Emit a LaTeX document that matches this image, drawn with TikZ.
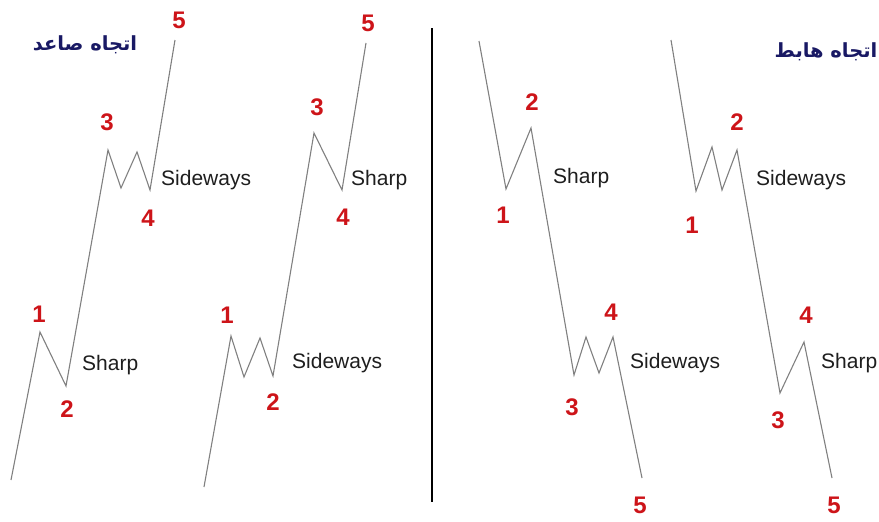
\documentclass[tikz,border=0pt]{standalone}
\usepackage{fontspec}
\setmainfont{Liberation Sans}
\newfontfamily\arabicfont[Script=Arabic]{DejaVu Sans Bold}
\TeXXeTstate=1
\definecolor{wavegray}{RGB}{128,128,128}
\definecolor{numred}{RGB}{205,20,25}
\definecolor{titleblue}{RGB}{25,25,100}
\definecolor{txtgray}{RGB}{30,30,30}
\tikzset{
  wave/.style={draw=wavegray, line width=1.1pt, line join=miter},
  num/.style={text=numred, font=\fontsize{24}{26}\selectfont\bfseries, inner sep=0pt, anchor=center},
  lbl/.style={text=txtgray, font=\fontsize{21}{23}\selectfont, inner sep=0pt, anchor=west},
  ttl/.style={text=titleblue, font=\arabicfont\fontsize{19.5}{22}\selectfont, inner sep=0pt, anchor=center},
  divider/.style={draw=black, line width=2pt}
}
\begin{document}
\begin{tikzpicture}[x=1pt,y=-1pt]
\useasboundingbox (0,0) rectangle (879,522);
% panel 1
\coordinate (a0) at (11,480);
\coordinate (a1) at (40,332);
\coordinate (a2) at (66,386);
\coordinate (a3) at (108,150);
\coordinate (a3b) at (121,188);
\coordinate (a3c) at (137,152);
\coordinate (a4) at (150,190);
\coordinate (a5) at (175,40);
\draw[wave] (a0) -- (a1) -- (a2) -- (a3) -- (a3b) -- (a3c) -- (a4) -- (a5);
\node[num] (na1) at (39,314) {1};
\node[num] (na2) at (67,409) {2};
\node[num] (na3) at (107,122) {3};
\node[num] (na4) at (148,218) {4};
\node[num] (na5) at (179,20) {5};
\node[lbl] (la1) at (82,365) {Sharp};
\node[lbl] (la2) at (161,180) {Sideways};
\node[ttl] (ta) at (85,45) {\beginR اتجاه صاعد\endR};
% panel 2
\coordinate (b0) at (204,487);
\coordinate (b1) at (231,336);
\coordinate (b1b) at (244,377);
\coordinate (b1c) at (260,338);
\coordinate (b2) at (273,376);
\coordinate (b3) at (314,133);
\coordinate (b4) at (342,190);
\coordinate (b5) at (366,43);
\draw[wave] (b0) -- (b1) -- (b1b) -- (b1c) -- (b2) -- (b3) -- (b4) -- (b5);
\node[num] (nb1) at (227,315) {1};
\node[num] (nb2) at (273,402) {2};
\node[num] (nb3) at (317,107) {3};
\node[num] (nb4) at (343,217) {4};
\node[num] (nb5) at (368,23) {5};
\node[lbl] (lb1) at (292,363) {Sideways};
\node[lbl] (lb2) at (351,180) {Sharp};
% divider
\coordinate (dv1) at (432,28);
\coordinate (dv2) at (432,502);
\draw[divider] (dv1) -- (dv2);
% panel 3
\coordinate (c0) at (479,41);
\coordinate (c1) at (506,189);
\coordinate (c2) at (531,128);
\coordinate (c3) at (574,375);
\coordinate (c3b) at (586,337);
\coordinate (c3c) at (599,373);
\coordinate (c4) at (613,337);
\coordinate (c5) at (642,478);
\draw[wave] (c0) -- (c1) -- (c2) -- (c3) -- (c3b) -- (c3c) -- (c4) -- (c5);
\node[num] (nc1) at (503,215) {1};
\node[num] (nc2) at (532,102) {2};
\node[num] (nc3) at (572,407) {3};
\node[num] (nc4) at (611,312) {4};
\node[num] (nc5) at (640,505) {5};
\node[lbl] (lc1) at (553,178) {Sharp};
\node[lbl] (lc2) at (630,363) {Sideways};
% panel 4
\coordinate (d0) at (671,40);
\coordinate (d1) at (696,191);
\coordinate (d1b) at (712,147);
\coordinate (d1c) at (722,190);
\coordinate (d2) at (737,150);
\coordinate (d3) at (780,393);
\coordinate (d4) at (804,342);
\coordinate (d5) at (832,478);
\draw[wave] (d0) -- (d1) -- (d1b) -- (d1c) -- (d2) -- (d3) -- (d4) -- (d5);
\node[num] (nd1) at (692,225) {1};
\node[num] (nd2) at (737,122) {2};
\node[num] (nd3) at (778,420) {3};
\node[num] (nd4) at (806,315) {4};
\node[num] (nd5) at (834,505) {5};
\node[lbl] (ld1) at (756,180) {Sideways};
\node[lbl] (ld2) at (821,363) {Sharp};
\node[ttl] (td) at (826,52) {\beginR اتجاه هابط\endR};
\end{tikzpicture}
\end{document}
